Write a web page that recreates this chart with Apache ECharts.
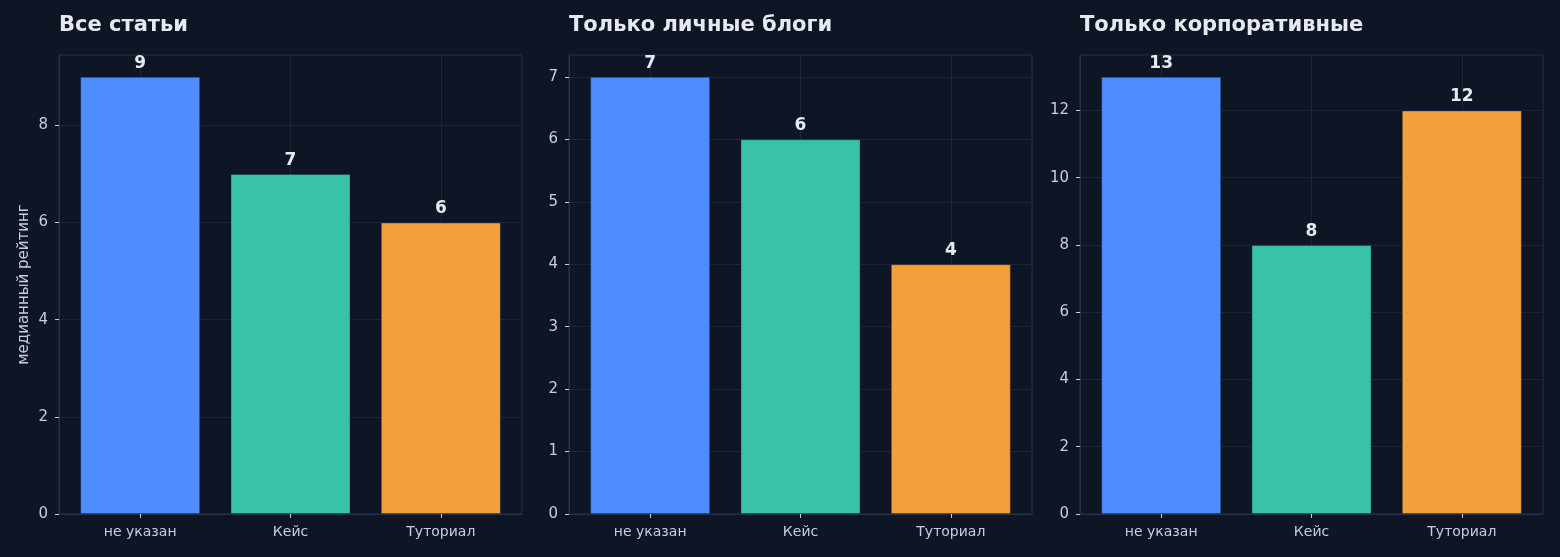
<!DOCTYPE html>
<html>
<head>
<meta charset="utf-8">
<script src="https://cdn.jsdelivr.net/npm/echarts@6/dist/echarts.min.js"></script>
<style>
  html, body { margin: 0; padding: 0; background: #0e1525; }
  #chart { width: 1560px; height: 557px; }
</style>
</head>
<body>
<div id="chart"></div>
<script>
const categories = ['не указан', 'Кейс', 'Туториал'];
const titles = ['Все статьи', 'Только личные блоги', 'Только корпоративные'];
const allValues = [9, 7, 6];
const personalValues = [7, 6, 4];
const corporateValues = [13, 8, 12];
const yTicksAll = [0, 2, 4, 6, 8];
const yTicksPersonal = [0, 1, 2, 3, 4, 5, 6, 7];
const yTicksCorporate = [0, 2, 4, 6, 8, 10, 12];
const barColors = ['#4d8dff', '#38c2a6', '#f2a03d'];

const panels = [
  { values: allValues, ticks: yTicksAll, left: 59 },
  { values: personalValues, ticks: yTicksPersonal, left: 569 },
  { values: corporateValues, ticks: yTicksCorporate, left: 1080 }
];

const textColor = '#c9ced8';
const gridLine = '#1b2538';
const frameColor = '#25324b';

const myChart = echarts.init(document.getElementById('chart'));

const option = {
  backgroundColor: '#0e1525',
  animation: false,
  textStyle: { fontFamily: 'DejaVu Sans' },
  title: panels.map((p, i) => ({
    text: titles[i],
    left: p.left,
    top: 15,
    padding: 0,
    textStyle: { color: '#e6e9f0', fontSize: 21, fontWeight: 'bold', fontFamily: 'DejaVu Sans' }
  })),
  grid: panels.map(p => ({
    left: p.left,
    top: 55,
    width: 463,
    height: 459,
    show: true,
    borderColor: frameColor,
    borderWidth: 1,
    backgroundColor: 'transparent'
  })),
  xAxis: panels.map((p, i) => ({
    type: 'value',
    gridIndex: i,
    min: -0.54,
    max: 2.54,
    axisLine: { show: true, onZero: false, lineStyle: { color: frameColor } },
    axisTick: {
      show: true,
      length: 4,
      customValues: [0, 1, 2],
      lineStyle: { color: textColor }
    },
    axisLabel: {
      customValues: [0, 1, 2],
      color: textColor,
      fontSize: 14,
      margin: 11,
      formatter: v => categories[Math.round(v)]
    },
    splitLine: { show: true, lineStyle: { color: gridLine, width: 1 } }
  })),
  yAxis: panels.map((p, i) => ({
    type: 'value',
    gridIndex: i,
    min: 0,
    max: Math.max(...p.values) * 1.05,
    name: i === 0 ? 'медианный рейтинг' : '',
    nameLocation: 'middle',
    nameGap: 27,
    nameTextStyle: { color: textColor, fontSize: 15 },
    axisLine: { show: true, onZero: false, lineStyle: { color: frameColor } },
    axisTick: {
      show: true,
      length: 4,
      customValues: p.ticks,
      lineStyle: { color: textColor }
    },
    axisLabel: {
      customValues: p.ticks,
      color: textColor,
      fontSize: 15,
      margin: 11
    },
    splitLine: { show: true, lineStyle: { color: gridLine, width: 1 } }
  })),
  series: panels.map((p, i) => ({
    type: 'bar',
    xAxisIndex: i,
    yAxisIndex: i,
    barWidth: 120,
    data: p.values.map((v, j) => ({
      value: [j, v],
      itemStyle: { color: barColors[j], borderColor: 'rgba(20,30,50,0.35)', borderWidth: 1 }
    })),
    label: {
      show: true,
      position: 'top',
      distance: 5,
      color: '#e6e9f0',
      fontSize: 17,
      fontWeight: 'bold',
      formatter: d => d.value[1]
    }
  }))
};

myChart.setOption(option);

window.addEventListener('resize', function() {
  myChart.resize();
});
</script>
</body>
</html>
